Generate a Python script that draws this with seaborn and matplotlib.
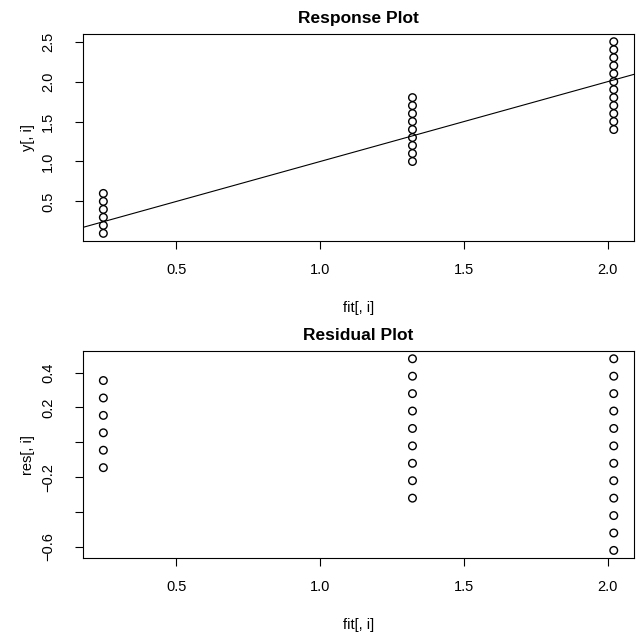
import matplotlib
matplotlib.use("Agg")
import matplotlib.pyplot as plt
import numpy as np
import pandas as pd
import seaborn as sns

# fitted value of each group and the observed responses in it
FIT_VALUES = [0.246, 1.321, 2.021]
Y_GROUP1 = [0.1, 0.2, 0.3, 0.4, 0.5, 0.6]
Y_GROUP2 = [1.0, 1.1, 1.2, 1.3, 1.4, 1.5, 1.6, 1.7, 1.8]
Y_GROUP3 = [1.4, 1.5, 1.6, 1.7, 1.8, 1.9, 2.0, 2.1, 2.2, 2.3, 2.4, 2.5]

X_TICKS = [0.5, 1.0, 1.5, 2.0]
Y_TICKS_RESPONSE = [0.5, 1.0, 1.5, 2.0, 2.5]
Y_TICKS_RESIDUAL = [-0.6, -0.4, -0.2, 0.0, 0.2, 0.4]
Y_LABELS_RESIDUAL = ["\u22120.6", "", "\u22120.2", "", "0.2", "0.4"]


def build_frame() -> pd.DataFrame:
    rows = []
    for fit, ys in zip(FIT_VALUES, [Y_GROUP1, Y_GROUP2, Y_GROUP3]):
        for y in ys:
            rows.append({"fit": fit, "y": y, "res": y - fit})
    return pd.DataFrame(rows)


def r_limits(values) -> tuple[float, float]:
    lo, hi = float(np.min(values)), float(np.max(values))
    pad = 0.04 * (hi - lo)
    return lo - pad, hi + pad


def style_axes(ax, title, ylabel) -> None:
    ax.set_title(title, fontsize=12.5, fontweight="bold", pad=8, color="black")
    ax.set_xlabel("fit[, i]", fontsize=10.5, labelpad=17.5, color="black")
    ax.set_ylabel(ylabel, fontsize=10.5, labelpad=4.5, color="black")
    ax.set_xticks(X_TICKS)
    ax.set_xticklabels([f"{t:.1f}" for t in X_TICKS])
    ax.tick_params(axis="both", direction="out", length=6, width=0.8,
                   labelsize=10.5, color="black", labelcolor="black")
    ax.tick_params(axis="x", pad=9.5)
    ax.tick_params(axis="y", labelrotation=90, pad=14)
    for label in ax.get_yticklabels():
        label.set_va("center")
    for spine in ax.spines.values():
        spine.set_visible(True)
        spine.set_color("black")
        spine.set_linewidth(0.8)


def main() -> None:
    df = build_frame()

    sns.set_style("ticks")
    plt.rcParams["font.family"] = ["Liberation Sans", "DejaVu Sans"]
    plt.rcParams["text.color"] = "black"
    plt.rcParams["axes.labelcolor"] = "black"

    fig = plt.figure(figsize=(6.38, 6.40), dpi=100)
    ax_top = fig.add_axes([0.130, 0.6234, 0.864, 0.3234])
    ax_bot = fig.add_axes([0.130, 0.128, 0.864, 0.3234])

    scatter_kws = dict(marker="o", s=30, facecolor="none",
                       edgecolor="black", linewidth=1.0, legend=False)

    sns.scatterplot(data=df, x="fit", y="y", ax=ax_top, **scatter_kws)
    ax_top.axline((0, 0), slope=1, color="black", linewidth=0.8)
    ax_top.set_xlim(*r_limits(df["fit"]))
    ax_top.set_ylim(*r_limits(df["y"]))
    ax_top.set_yticks(Y_TICKS_RESPONSE)
    ax_top.set_yticklabels([f"{t:.1f}" for t in Y_TICKS_RESPONSE])
    style_axes(ax_top, "Response Plot", "y[, i]")

    sns.scatterplot(data=df, x="fit", y="res", ax=ax_bot, **scatter_kws)
    ax_bot.set_xlim(*r_limits(df["fit"]))
    ax_bot.set_ylim(*r_limits(df["res"]))
    ax_bot.set_yticks(Y_TICKS_RESIDUAL)
    ax_bot.set_yticklabels(Y_LABELS_RESIDUAL)
    style_axes(ax_bot, "Residual Plot", "res[, i]")

    fig.savefig("out.png", dpi=100)


if __name__ == "__main__":
    main()
